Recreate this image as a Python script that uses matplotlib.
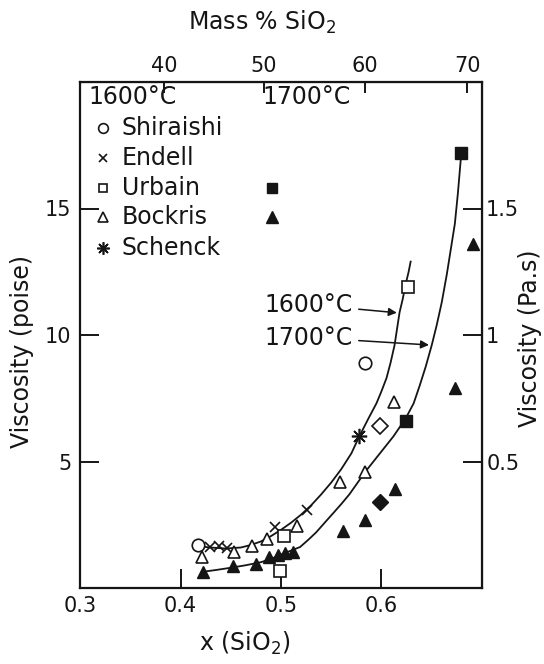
import numpy as np
import matplotlib
matplotlib.use("Agg")
import matplotlib.pyplot as plt

plt.rcParams['font.family'] = ['DejaVu Sans']
plt.rcParams['mathtext.fontset'] = 'dejavusans'

# ---- data (x = mole fraction SiO2, viscosity in poise) ----
shiraishi_x = [0.417, 0.584]
shiraishi_v = [1.70, 8.9]

endell_x = [0.429, 0.438, 0.446, 0.494, 0.526]
endell_v = [1.62, 1.66, 1.60, 2.40, 3.10]

urbain_1600_x = [0.499, 0.503, 0.626]
urbain_1600_v = [0.67, 2.05, 11.9]
urbain_1700_x = [0.624, 0.679]
urbain_1700_v = [6.6, 17.2]

bockris_1600_x = [0.421, 0.453, 0.471, 0.486, 0.516, 0.559, 0.584, 0.612]
bockris_1600_v = [1.24, 1.41, 1.65, 1.92, 2.45, 4.2, 4.6, 7.35]
bockris_1700_x = [0.422, 0.452, 0.475, 0.488, 0.497, 0.504, 0.512, 0.562,
                  0.584, 0.613, 0.673, 0.691]
bockris_1700_v = [0.64, 0.87, 0.96, 1.24, 1.30, 1.38, 1.42, 2.25,
                  2.70, 3.90, 7.90, 13.6]

schenck_x = [0.578]
schenck_v = [6.0]

# unlabelled diamonds in the original
diamond_open_x, diamond_open_v = [0.599], [6.4]
diamond_fill_x, diamond_fill_v = [0.599], [3.4]

# fitted curves
curve_1600_x = [0.418, 0.430, 0.445, 0.460, 0.470, 0.480, 0.490, 0.500, 0.510,
                0.520, 0.530, 0.540, 0.550, 0.560, 0.570, 0.578, 0.587, 0.595,
                0.600, 0.605, 0.609, 0.613, 0.618, 0.621, 0.624, 0.627, 0.629]
curve_1600_v = [1.65, 1.60, 1.56, 1.60, 1.70, 1.84, 2.05, 2.30, 2.58,
                2.90, 3.27, 3.70, 4.17, 4.70, 5.32, 6.00, 6.70, 7.30,
                7.78, 8.30, 8.90, 9.60, 10.9, 11.4, 12.0, 12.5, 12.9]
curve_1700_x = [0.422, 0.435, 0.450, 0.465, 0.480, 0.490, 0.500, 0.510, 0.519,
                0.527, 0.535, 0.543, 0.552, 0.560, 0.568, 0.576, 0.584, 0.592,
                0.600, 0.612, 0.624, 0.632, 0.638, 0.644, 0.650, 0.655, 0.660,
                0.665, 0.669, 0.673, 0.676, 0.679]
curve_1700_v = [0.64, 0.71, 0.80, 0.90, 1.02, 1.15, 1.32, 1.48, 1.62,
                1.90, 2.20, 2.56, 2.96, 3.32, 3.70, 4.15, 4.60, 5.00,
                5.40, 6.00, 6.70, 7.30, 8.00, 8.75, 9.60, 10.4, 11.3,
                12.4, 13.4, 14.4, 15.6, 17.0]

ink = '#151515'
fs = 15
fl = 17

fig = plt.figure(figsize=(5.44, 6.64), dpi=100)
ax = fig.add_axes([80 / 544, 1 - 588 / 664, 402 / 544, 506 / 664])

ax.plot(curve_1600_x, curve_1600_v, color=ink, lw=1.3)
ax.plot(curve_1700_x, curve_1700_v, color=ink, lw=1.3)

ax.plot(shiraishi_x, shiraishi_v, 'o', ms=9, mfc='white', mec=ink, mew=1.2, ls='none')
ax.plot(endell_x, endell_v, 'x', ms=7, color=ink, mew=1.2, ls='none')
ax.plot(urbain_1600_x, urbain_1600_v, 's', ms=8, mfc='white', mec=ink, mew=1.2, ls='none')
ax.plot(urbain_1700_x, urbain_1700_v, 's', ms=8, color=ink, ls='none')
ax.plot(bockris_1600_x, bockris_1600_v, '^', ms=9, mfc='white', mec=ink, mew=1.2, ls='none')
ax.plot(bockris_1700_x, bockris_1700_v, '^', ms=9, color=ink, ls='none')
ax.plot(schenck_x, schenck_v, marker=(8, 2, 0), ms=11, color=ink, mew=1.2, ls='none')
ax.plot(diamond_open_x, diamond_open_v, 'D', ms=8, mfc='white', mec=ink, mew=1.2, ls='none')
ax.plot(diamond_fill_x, diamond_fill_v, 'D', ms=8, color=ink, ls='none')

# curve labels with arrows
arrow = dict(arrowstyle='-|>', color=ink, lw=1.1, mutation_scale=12)
ax.annotate('1600°C', xy=(0.618, 10.87), xytext=(0.484, 11.2), fontsize=fl,
            color=ink, va='center', arrowprops=arrow)
ax.annotate('1700°C', xy=(0.650, 9.6), xytext=(0.484, 9.9), fontsize=fl,
            color=ink, va='center', arrowprops=arrow)

# hand-drawn style key in the upper left
tr = ax.transAxes
ax.text(0.02, 0.970, '1600°C', transform=tr, fontsize=fl, color=ink, va='center')
ax.text(0.453, 0.970, '1700°C', transform=tr, fontsize=fl, color=ink, va='center')
key_rows = [
    ('Shiraishi', dict(marker='o', ms=7, mfc='white', mec=ink, mew=1.2), None),
    ('Endell', dict(marker='x', ms=6, color=ink, mew=1.2), None),
    ('Urbain', dict(marker='s', ms=6, mfc='white', mec=ink, mew=1.2),
     dict(marker='s', ms=7, color=ink)),
    ('Bockris', dict(marker='^', ms=7, mfc='white', mec=ink, mew=1.2),
     dict(marker='^', ms=8, color=ink)),
    ('Schenck', dict(marker=(8, 2, 0), ms=9, color=ink, mew=1.2), None),
]
row_y = [0.909, 0.850, 0.790, 0.733, 0.672]
for (name, m_open, m_fill), yy in zip(key_rows, row_y):
    ax.plot([0.057], [yy], transform=tr, ls='none', clip_on=False, **m_open)
    ax.text(0.104, yy, name, transform=tr, fontsize=fl, color=ink, va='center')
    if m_fill is not None:
        ax.plot([0.478], [yy], transform=tr, ls='none', clip_on=False, **m_fill)

ax.set_xlim(0.3, 0.7)
ax.set_ylim(0, 20)
ax.set_xticks([0.3, 0.4, 0.5, 0.6])
ax.set_xticklabels(['0.3', '0.4', '0.5', '0.6'])
ax.set_yticks([5, 10, 15])
ax.tick_params(direction='in', length=14, width=1.4, labelsize=fs, colors=ink, pad=6)
for s in ax.spines.values():
    s.set_linewidth(1.6)
    s.set_color(ink)


# top axis: mass % SiO2 for the CaO-SiO2 system
def to_mass(x):
    x = np.asarray(x, dtype=float)
    return 100 * 60.08 * x / (60.08 * x + 56.08 * (1 - x))


def to_x(w):
    w = np.asarray(w, dtype=float)
    return (w / 60.08) / (w / 60.08 + (100 - w) / 56.08)


secx = ax.secondary_xaxis('top', functions=(to_mass, to_x))
secx.set_xticks([40, 50, 60, 70])
secx.tick_params(direction='in', length=8, width=1.4, labelsize=fs, colors=ink, pad=4)

secy = ax.secondary_yaxis('right', functions=(lambda v: v / 10, lambda p: p * 10))
secy.set_yticks([0.5, 1, 1.5])
secy.set_yticklabels(['0.5', '1', '1.5'])
secy.tick_params(direction='in', length=14, width=1.4, labelsize=fs, colors=ink, pad=3)

# axis titles placed where they sit in the original figure
fig.text(262 / 544, 1 - 22 / 664, 'Mass % SiO$_2$', fontsize=fl, color=ink,
         ha='center', va='center')
fig.text(245 / 544, 1 - 643 / 664, 'x (SiO$_2$)', fontsize=fl, color=ink,
         ha='center', va='center')
fig.text(22 / 544, 1 - 352 / 664, 'Viscosity (poise)', fontsize=fl, color=ink,
         ha='center', va='center', rotation=90)
fig.text(530 / 544, 1 - 338 / 664, 'Viscosity (Pa.s)', fontsize=fl, color=ink,
         ha='center', va='center', rotation=90)

fig.savefig('out.png', dpi=100)
